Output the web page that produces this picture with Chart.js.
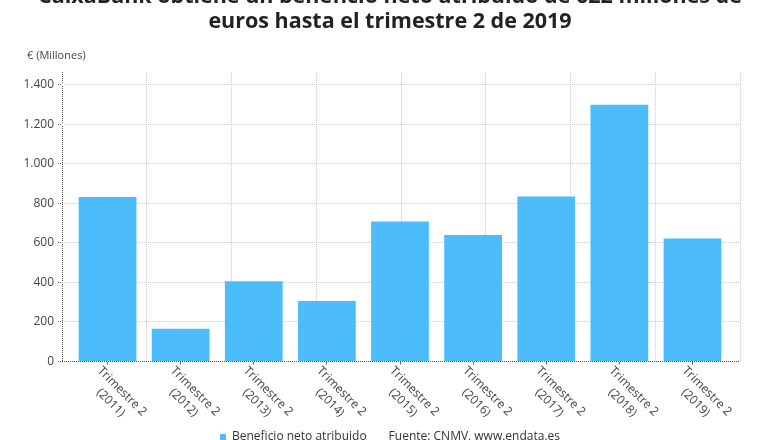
<!DOCTYPE html>
<html><head><meta charset="utf-8">
<script src="https://cdn.jsdelivr.net/npm/chart.js@4"></script>
<style>html,body{margin:0;padding:0;background:#fff}#wrap{width:780px;height:440px;position:relative}</style>
</head><body><div id="wrap"><canvas id="c"></canvas></div>
<script>
const titleLines = ['CaixaBank obtiene un beneficio neto atribuido de 622 millones de', 'euros hasta el trimestre 2 de 2019'];
const unitLabel = '€ (Millones)';
const categories = ['Trimestre 2 (2011)', 'Trimestre 2 (2012)', 'Trimestre 2 (2013)', 'Trimestre 2 (2014)', 'Trimestre 2 (2015)', 'Trimestre 2 (2016)', 'Trimestre 2 (2017)', 'Trimestre 2 (2018)', 'Trimestre 2 (2019)'];
const values = [832, 166, 406, 306, 708, 640, 835, 1298, 622];
const seriesName = 'Beneficio neto atribuido';
const sourceNote = 'Fuente: CNMV, www.endata.es';
const yTickValues = [0, 200, 400, 600, 800, 1000, 1200, 1400];

const BAR = '#4cbcfa';
const FONT = '"Open Sans", "Noto Sans", sans-serif';
const GRID = '#cdcdcd';
const AXIS = '#555';

function fmt(v) { return String(v).replace(/\B(?=(\d{3})+(?!\d))/g, '.'); }
function zeroDark(c) { return (c && c.tick && c.tick.value === 0) ? AXIS : GRID; }

const textPlugin = {
  id: 'texts',
  afterDraw(chart) {
    const { ctx, chartArea } = chart;
    const x = chart.scales.x;
    ctx.save();
    ctx.font = '11px ' + FONT;
    ctx.fillStyle = '#444';
    ctx.textAlign = 'left';
    ctx.textBaseline = 'middle';
    ctx.fillText(unitLabel, chartArea.left - 35, chartArea.top - 16);
    ctx.font = '12px ' + FONT;
    categories.forEach((c, i) => {
      const idx = c.indexOf(' (');
      const lines = idx > 0 ? [c.slice(0, idx), c.slice(idx + 1)] : [c];
      const px = x.getPixelForValue(i);
      const w = Math.max(...lines.map(l => ctx.measureText(l).width));
      ctx.save();
      ctx.translate(px - 4, x.top + 3);
      ctx.rotate(Math.PI / 4);
      ctx.textAlign = 'center';
      ctx.textBaseline = 'top';
      lines.forEach((l, k) => ctx.fillText(l, w / 2, k * 16));
      ctx.restore();
    });
    ctx.restore();
  }
};

new Chart(document.getElementById('c'), {
  type: 'bar',
  data: {
    datasets: [{
      label: seriesName,
      data: values.map((v, i) => ({ x: i, y: v })),
      backgroundColor: BAR,
      borderWidth: 0,
      categoryPercentage: 0.79,
      barPercentage: 1
    }]
  },
  options: {
    responsive: true,
    maintainAspectRatio: false,
    animation: false,
    devicePixelRatio: 1,
    layout: { padding: { left: 20, right: 20, top: 0, bottom: -13 } },
    plugins: {
      tooltip: { enabled: false },
      title: {
        display: true,
        text: titleLines,
        color: '#222',
        font: { family: FONT, size: 21.5, weight: 'bold', lineHeight: 25 / 21.5 },
        padding: { top: -15.5, bottom: 37.5 }
      },
      subtitle: { display: false },
      legend: {
        position: 'bottom',
        onClick: null,
        labels: {
          boxWidth: 6,
          boxHeight: 6,
          padding: 10,
          color: '#333',
          font: { family: FONT, size: 12 },
          generateLabels: () => [
            { text: seriesName, fillStyle: BAR, strokeStyle: BAR, lineWidth: 0, hidden: false, datasetIndex: 0, fontColor: '#333' },
            { text: sourceNote, fillStyle: 'rgba(0,0,0,0)', strokeStyle: 'rgba(0,0,0,0)', lineWidth: 0, hidden: false, fontColor: '#333' }
          ]
        }
      }
    },
    scales: {
      x: {
        type: 'linear',
        position: 'bottom',
        offset: false,
        min: -0.623,
        max: 8.65,
        afterBuildTicks: s => { s.ticks = categories.map((c, i) => ({ value: i })); },
        ticks: { display: false },
        grid: {
          display: true,
          offset: false,
          drawOnChartArea: false,
          drawTicks: true,
          tickLength: 3,
          tickColor: '#666'
        },
        border: { display: false },
        afterFit: s => { s.height = 59.5; }
      },
      x2: {
        type: 'linear',
        position: 'top',
        offset: false,
        min: 0,
        max: 8,
        ticks: { display: false, stepSize: 1 },
        grid: { display: true, offset: false, drawTicks: false, color: zeroDark, lineWidth: 1 },
        border: { display: false, dash: [1, 1] },
        afterFit: s => { s.height = 0; }
      },
      y: {
        min: 0,
        max: 1464,
        afterBuildTicks: s => { s.ticks = yTickValues.map(v => ({ value: v })); },
        ticks: {
          color: '#444',
          font: { family: FONT, size: 12 },
          padding: 4,
          callback: v => fmt(v)
        },
        grid: {
          color: zeroDark,
          tickColor: '#666',
          tickLength: 4,
          tickBorderDash: [1, 1]
        },
        border: { display: false, dash: [1, 1] },
        afterFit: s => { s.width = 42; }
      },
      y2: {
        type: 'linear',
        position: 'right',
        display: true,
        min: 0,
        max: 1,
        ticks: { display: false },
        grid: { display: false },
        border: { display: false },
        afterFit: s => { s.width = 20; }
      }
    }
  },
  plugins: [textPlugin]
});
</script>
</body></html>
